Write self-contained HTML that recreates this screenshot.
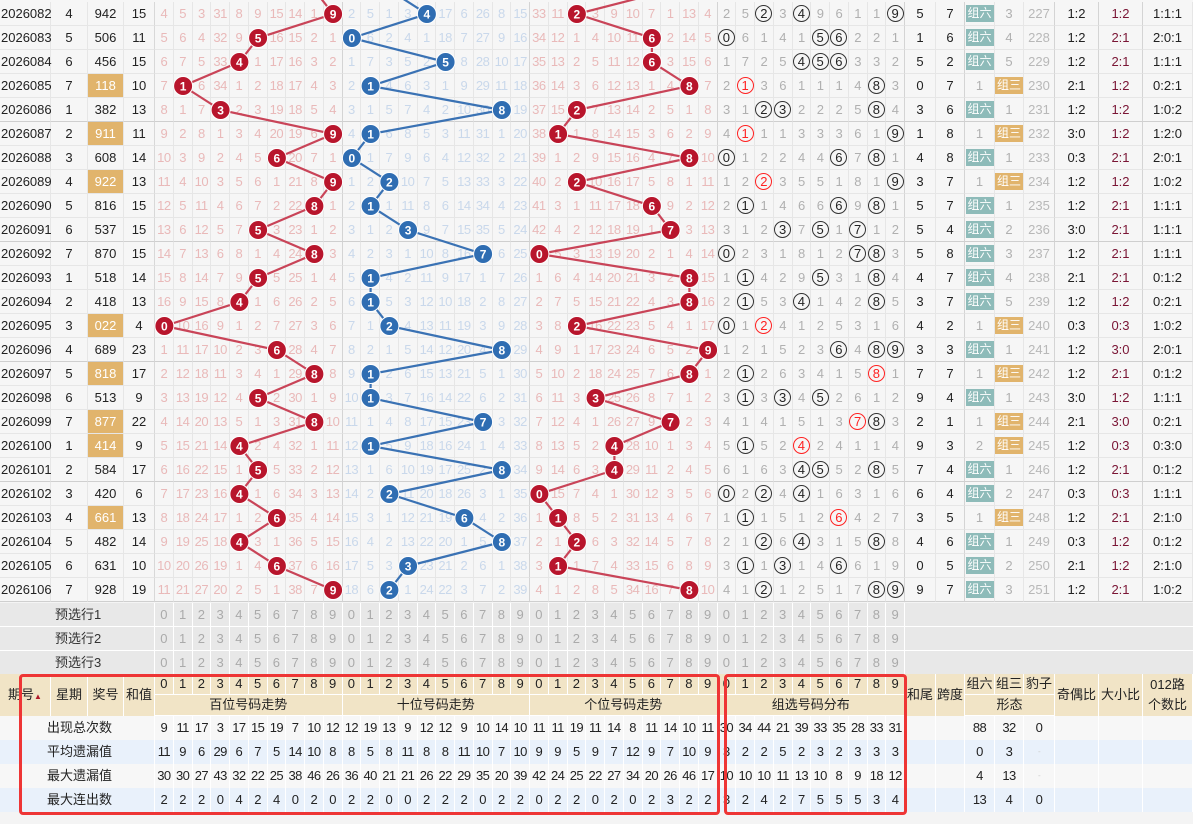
<!DOCTYPE html>
<html><head><meta charset="utf-8">
<style>
*{margin:0;padding:0}
body{width:1193px;height:824px;overflow:hidden;background:#f4f4f4;font-family:"Liberation Sans","Noto Sans CJK SC",sans-serif;font-size:13px;color:#222;position:relative}
.body{position:absolute;left:0;top:2px;width:1193px}
.top{position:absolute;left:0;top:0;width:1193px;height:2px;background:#f6f6f6;border-bottom:1px solid #e4e4e4}
.r{display:flex;height:24px;background:#f6f6f6}
.r>i{display:block;box-sizing:border-box;height:24px;line-height:23px;text-align:center;font-style:normal;border-right:1px solid #e6e6e6;border-bottom:1px solid #e6e6e6;white-space:nowrap;overflow:visible}
.r>i:nth-child(1){width:51px;text-align:left;padding-left:1px}
.r>i:nth-child(2){width:37px}
.r>i:nth-child(3){width:36px}
.r>i:nth-child(4){width:31px;border-right:1px solid #d8d8d8}
.r>i:nth-child(n+5):nth-child(-n+44){width:18.75px;letter-spacing:-0.5px}
.r>i:nth-child(n+5):nth-child(-n+14){color:#e9b9b9}
.r>i:nth-child(n+15):nth-child(-n+24){color:#c9d8eb}
.r>i:nth-child(n+25):nth-child(-n+34){color:#e9b9b9}
.r>i:nth-child(n+35):nth-child(-n+44){color:#b0b0b0}
.r>i:nth-child(14),.r>i:nth-child(24),.r>i:nth-child(34),.r>i:nth-child(44){border-right:1px solid #d4d4d4}
.r>i:nth-child(45){width:31px}
.r>i:nth-child(46){width:29px;border-right:1px solid #d4d4d4}
.r>i:nth-child(47){width:30px;color:#b0b0b0}
.r>i:nth-child(48){width:29px;color:#b0b0b0}
.r>i:nth-child(49){width:31px;color:#b8b8b8;border-right:1px solid #d4d4d4}
.r>i:nth-child(50){width:44px;border-right:1px solid #d4d4d4}
.r>i:nth-child(51){width:44px;color:#7a1535;border-right:1px solid #d4d4d4}
.r>i:nth-child(52){width:50px}
.r.g5>i{border-bottom:1px solid #cfcfcf}
.r>i.o{background:#e1b46c;color:#fff}
em{display:inline-block;box-sizing:border-box;width:17px;height:17px;line-height:15px;border:1px solid #333;border-radius:50%;color:#222;font-style:normal;letter-spacing:0;vertical-align:middle;margin-top:-2px}
em.d{border-color:#f22;color:#f22}
.z6{display:inline-block;background:#8ebbb9;color:#fff;width:28px;line-height:17px;font-size:12px;vertical-align:middle;margin-top:-2px}
.z3{display:inline-block;background:#e1b46c;color:#fff;width:28px;line-height:17px;font-size:12px;vertical-align:middle;margin-top:-2px}
svg.ov{position:absolute;left:0;top:0}
.pr{position:absolute;left:0;width:1193px;height:24px;display:flex;background:#e8e8e8}
.pr>i{display:block;box-sizing:border-box;height:24px;line-height:23px;font-style:normal;text-align:center;border-right:1px solid #fff;border-bottom:1px solid #fff;color:#aaa;width:18.75px}
.pr>i:first-child{width:155px;text-align:left;padding-left:55px;color:#333}
.pr>i:last-child{flex:1;border-right:none}
.hd{position:absolute;left:0;top:674px;width:1193px;height:42px;background:#f1e4c6;display:flex}
.hd .c{box-sizing:border-box;height:42px;line-height:42px;border-right:1px solid #fff;text-align:center}
.hd .blk{display:flex;flex-direction:column}
.hd .row{display:flex;height:21px}
.hd .row i{display:block;box-sizing:border-box;font-style:normal;text-align:center;line-height:20px;border-right:1px solid #fff;border-bottom:1px solid #fff;height:21px}
.st{position:absolute;left:0;width:1193px;height:24px;display:flex}
.st>i{display:block;box-sizing:border-box;height:24px;line-height:23px;font-style:normal;text-align:center;border-right:1px solid #fff;width:18.75px;letter-spacing:-0.6px}
.st>i:first-child{width:155px;text-align:left;padding-left:47px;letter-spacing:0}
.box{position:absolute;border:3px solid #ee3535;border-radius:4px;box-sizing:border-box}
</style></head><body>
<div class="top"></div>
<div class="body">
<div class="r"><i>2026082</i><i>4</i><i>942</i><i>15</i><i>4</i><i>5</i><i>3</i><i>31</i><i>8</i><i>9</i><i>15</i><i>14</i><i>1</i><i></i><i>2</i><i>5</i><i>1</i><i>3</i><i></i><i>17</i><i>6</i><i>26</i><i>8</i><i>15</i><i>33</i><i>11</i><i></i><i>3</i><i>9</i><i>10</i><i>7</i><i>1</i><i>13</i><i>4</i><i>2</i><i>5</i><i><em>2</em></i><i>3</i><i><em>4</em></i><i>9</i><i>6</i><i>1</i><i>1</i><i><em>9</em></i><i>5</i><i>7</i><i><span class="z6">组六</span></i><i>3</i><i>227</i><i>1:2</i><i>1:2</i><i>1:1:1</i></div>
<div class="r"><i>2026083</i><i>5</i><i>506</i><i>11</i><i>5</i><i>6</i><i>4</i><i>32</i><i>9</i><i></i><i>16</i><i>15</i><i>2</i><i>1</i><i></i><i>6</i><i>2</i><i>4</i><i>1</i><i>18</i><i>7</i><i>27</i><i>9</i><i>16</i><i>34</i><i>12</i><i>1</i><i>4</i><i>10</i><i>11</i><i></i><i>2</i><i>14</i><i>5</i><i><em>0</em></i><i>6</i><i>1</i><i>4</i><i>1</i><i><em>5</em></i><i><em>6</em></i><i>2</i><i>2</i><i>1</i><i>1</i><i>6</i><i><span class="z6">组六</span></i><i>4</i><i>228</i><i>1:2</i><i>2:1</i><i>2:0:1</i></div>
<div class="r"><i>2026084</i><i>6</i><i>456</i><i>15</i><i>6</i><i>7</i><i>5</i><i>33</i><i></i><i>1</i><i>17</i><i>16</i><i>3</i><i>2</i><i>1</i><i>7</i><i>3</i><i>5</i><i>2</i><i></i><i>8</i><i>28</i><i>10</i><i>17</i><i>35</i><i>13</i><i>2</i><i>5</i><i>11</i><i>12</i><i></i><i>3</i><i>15</i><i>6</i><i>1</i><i>7</i><i>2</i><i>5</i><i><em>4</em></i><i><em>5</em></i><i><em>6</em></i><i>3</i><i>3</i><i>2</i><i>5</i><i>2</i><i><span class="z6">组六</span></i><i>5</i><i>229</i><i>1:2</i><i>2:1</i><i>1:1:1</i></div>
<div class="r"><i>2026085</i><i>7</i><i class="o">118</i><i>10</i><i>7</i><i></i><i>6</i><i>34</i><i>1</i><i>2</i><i>18</i><i>17</i><i>4</i><i>3</i><i>2</i><i></i><i>4</i><i>6</i><i>3</i><i>1</i><i>9</i><i>29</i><i>11</i><i>18</i><i>36</i><i>14</i><i>3</i><i>6</i><i>12</i><i>13</i><i>1</i><i>4</i><i></i><i>7</i><i>2</i><i><em class="d">1</em></i><i>3</i><i>6</i><i>1</i><i>1</i><i>1</i><i>4</i><i><em>8</em></i><i>3</i><i>0</i><i>7</i><i>1</i><i><span class="z3">组三</span></i><i>230</i><i>2:1</i><i>1:2</i><i>0:2:1</i></div>
<div class="r g5"><i>2026086</i><i>1</i><i>382</i><i>13</i><i>8</i><i>1</i><i>7</i><i></i><i>2</i><i>3</i><i>19</i><i>18</i><i>5</i><i>4</i><i>3</i><i>1</i><i>5</i><i>7</i><i>4</i><i>2</i><i>10</i><i>30</i><i></i><i>19</i><i>37</i><i>15</i><i></i><i>7</i><i>13</i><i>14</i><i>2</i><i>5</i><i>1</i><i>8</i><i>3</i><i>1</i><i><em>2</em></i><i><em>3</em></i><i>2</i><i>2</i><i>2</i><i>5</i><i><em>8</em></i><i>4</i><i>3</i><i>6</i><i><span class="z6">组六</span></i><i>1</i><i>231</i><i>1:2</i><i>1:2</i><i>1:0:2</i></div>
<div class="r"><i>2026087</i><i>2</i><i class="o">911</i><i>11</i><i>9</i><i>2</i><i>8</i><i>1</i><i>3</i><i>4</i><i>20</i><i>19</i><i>6</i><i></i><i>4</i><i></i><i>6</i><i>8</i><i>5</i><i>3</i><i>11</i><i>31</i><i>1</i><i>20</i><i>38</i><i></i><i>1</i><i>8</i><i>14</i><i>15</i><i>3</i><i>6</i><i>2</i><i>9</i><i>4</i><i><em class="d">1</em></i><i>1</i><i>1</i><i>3</i><i>3</i><i>3</i><i>6</i><i>1</i><i><em>9</em></i><i>1</i><i>8</i><i>1</i><i><span class="z3">组三</span></i><i>232</i><i>3:0</i><i>1:2</i><i>1:2:0</i></div>
<div class="r"><i>2026088</i><i>3</i><i>608</i><i>14</i><i>10</i><i>3</i><i>9</i><i>2</i><i>4</i><i>5</i><i></i><i>20</i><i>7</i><i>1</i><i></i><i>1</i><i>7</i><i>9</i><i>6</i><i>4</i><i>12</i><i>32</i><i>2</i><i>21</i><i>39</i><i>1</i><i>2</i><i>9</i><i>15</i><i>16</i><i>4</i><i>7</i><i></i><i>10</i><i><em>0</em></i><i>1</i><i>2</i><i>2</i><i>4</i><i>4</i><i><em>6</em></i><i>7</i><i><em>8</em></i><i>1</i><i>4</i><i>8</i><i><span class="z6">组六</span></i><i>1</i><i>233</i><i>0:3</i><i>2:1</i><i>2:0:1</i></div>
<div class="r"><i>2026089</i><i>4</i><i class="o">922</i><i>13</i><i>11</i><i>4</i><i>10</i><i>3</i><i>5</i><i>6</i><i>1</i><i>21</i><i>8</i><i></i><i>1</i><i>2</i><i></i><i>10</i><i>7</i><i>5</i><i>13</i><i>33</i><i>3</i><i>22</i><i>40</i><i>2</i><i></i><i>10</i><i>16</i><i>17</i><i>5</i><i>8</i><i>1</i><i>11</i><i>1</i><i>2</i><i><em class="d">2</em></i><i>3</i><i>5</i><i>5</i><i>1</i><i>8</i><i>1</i><i><em>9</em></i><i>3</i><i>7</i><i>1</i><i><span class="z3">组三</span></i><i>234</i><i>1:2</i><i>1:2</i><i>1:0:2</i></div>
<div class="r"><i>2026090</i><i>5</i><i>816</i><i>15</i><i>12</i><i>5</i><i>11</i><i>4</i><i>6</i><i>7</i><i>2</i><i>22</i><i></i><i>1</i><i>2</i><i></i><i>1</i><i>11</i><i>8</i><i>6</i><i>14</i><i>34</i><i>4</i><i>23</i><i>41</i><i>3</i><i>1</i><i>11</i><i>17</i><i>18</i><i></i><i>9</i><i>2</i><i>12</i><i>2</i><i><em>1</em></i><i>1</i><i>4</i><i>6</i><i>6</i><i><em>6</em></i><i>9</i><i><em>8</em></i><i>1</i><i>5</i><i>7</i><i><span class="z6">组六</span></i><i>1</i><i>235</i><i>1:2</i><i>2:1</i><i>1:1:1</i></div>
<div class="r g5"><i>2026091</i><i>6</i><i>537</i><i>15</i><i>13</i><i>6</i><i>12</i><i>5</i><i>7</i><i></i><i>3</i><i>23</i><i>1</i><i>2</i><i>3</i><i>1</i><i>2</i><i></i><i>9</i><i>7</i><i>15</i><i>35</i><i>5</i><i>24</i><i>42</i><i>4</i><i>2</i><i>12</i><i>18</i><i>19</i><i>1</i><i></i><i>3</i><i>13</i><i>3</i><i>1</i><i>2</i><i><em>3</em></i><i>7</i><i><em>5</em></i><i>1</i><i><em>7</em></i><i>1</i><i>2</i><i>5</i><i>4</i><i><span class="z6">组六</span></i><i>2</i><i>236</i><i>3:0</i><i>2:1</i><i>1:1:1</i></div>
<div class="r"><i>2026092</i><i>7</i><i>870</i><i>15</i><i>14</i><i>7</i><i>13</i><i>6</i><i>8</i><i>1</i><i>4</i><i>24</i><i></i><i>3</i><i>4</i><i>2</i><i>3</i><i>1</i><i>10</i><i>8</i><i>16</i><i></i><i>6</i><i>25</i><i></i><i>5</i><i>3</i><i>13</i><i>19</i><i>20</i><i>2</i><i>1</i><i>4</i><i>14</i><i><em>0</em></i><i>2</i><i>3</i><i>1</i><i>8</i><i>1</i><i>2</i><i><em>7</em></i><i><em>8</em></i><i>3</i><i>5</i><i>8</i><i><span class="z6">组六</span></i><i>3</i><i>237</i><i>1:2</i><i>2:1</i><i>1:1:1</i></div>
<div class="r"><i>2026093</i><i>1</i><i>518</i><i>14</i><i>15</i><i>8</i><i>14</i><i>7</i><i>9</i><i></i><i>5</i><i>25</i><i>1</i><i>4</i><i>5</i><i></i><i>4</i><i>2</i><i>11</i><i>9</i><i>17</i><i>1</i><i>7</i><i>26</i><i>1</i><i>6</i><i>4</i><i>14</i><i>20</i><i>21</i><i>3</i><i>2</i><i></i><i>15</i><i>1</i><i><em>1</em></i><i>4</i><i>2</i><i>9</i><i><em>5</em></i><i>3</i><i>1</i><i><em>8</em></i><i>4</i><i>4</i><i>7</i><i><span class="z6">组六</span></i><i>4</i><i>238</i><i>2:1</i><i>2:1</i><i>0:1:2</i></div>
<div class="r"><i>2026094</i><i>2</i><i>418</i><i>13</i><i>16</i><i>9</i><i>15</i><i>8</i><i></i><i>1</i><i>6</i><i>26</i><i>2</i><i>5</i><i>6</i><i></i><i>5</i><i>3</i><i>12</i><i>10</i><i>18</i><i>2</i><i>8</i><i>27</i><i>2</i><i>7</i><i>5</i><i>15</i><i>21</i><i>22</i><i>4</i><i>3</i><i></i><i>16</i><i>2</i><i><em>1</em></i><i>5</i><i>3</i><i><em>4</em></i><i>1</i><i>4</i><i>2</i><i><em>8</em></i><i>5</i><i>3</i><i>7</i><i><span class="z6">组六</span></i><i>5</i><i>239</i><i>1:2</i><i>1:2</i><i>0:2:1</i></div>
<div class="r"><i>2026095</i><i>3</i><i class="o">022</i><i>4</i><i></i><i>10</i><i>16</i><i>9</i><i>1</i><i>2</i><i>7</i><i>27</i><i>3</i><i>6</i><i>7</i><i>1</i><i></i><i>4</i><i>13</i><i>11</i><i>19</i><i>3</i><i>9</i><i>28</i><i>3</i><i>8</i><i></i><i>16</i><i>22</i><i>23</i><i>5</i><i>4</i><i>1</i><i>17</i><i><em>0</em></i><i>1</i><i><em class="d">2</em></i><i>4</i><i>1</i><i>2</i><i>5</i><i>3</i><i>1</i><i>6</i><i>4</i><i>2</i><i>1</i><i><span class="z3">组三</span></i><i>240</i><i>0:3</i><i>0:3</i><i>1:0:2</i></div>
<div class="r g5"><i>2026096</i><i>4</i><i>689</i><i>23</i><i>1</i><i>11</i><i>17</i><i>10</i><i>2</i><i>3</i><i></i><i>28</i><i>4</i><i>7</i><i>8</i><i>2</i><i>1</i><i>5</i><i>14</i><i>12</i><i>20</i><i>4</i><i></i><i>29</i><i>4</i><i>9</i><i>1</i><i>17</i><i>23</i><i>24</i><i>6</i><i>5</i><i>2</i><i></i><i>1</i><i>2</i><i>1</i><i>5</i><i>2</i><i>3</i><i><em>6</em></i><i>4</i><i><em>8</em></i><i><em>9</em></i><i>3</i><i>3</i><i><span class="z6">组六</span></i><i>1</i><i>241</i><i>1:2</i><i>3:0</i><i>2:0:1</i></div>
<div class="r"><i>2026097</i><i>5</i><i class="o">818</i><i>17</i><i>2</i><i>12</i><i>18</i><i>11</i><i>3</i><i>4</i><i>1</i><i>29</i><i></i><i>8</i><i>9</i><i></i><i>2</i><i>6</i><i>15</i><i>13</i><i>21</i><i>5</i><i>1</i><i>30</i><i>5</i><i>10</i><i>2</i><i>18</i><i>24</i><i>25</i><i>7</i><i>6</i><i></i><i>1</i><i>2</i><i><em>1</em></i><i>2</i><i>6</i><i>3</i><i>4</i><i>1</i><i>5</i><i><em class="d">8</em></i><i>1</i><i>7</i><i>7</i><i>1</i><i><span class="z3">组三</span></i><i>242</i><i>1:2</i><i>2:1</i><i>0:1:2</i></div>
<div class="r"><i>2026098</i><i>6</i><i>513</i><i>9</i><i>3</i><i>13</i><i>19</i><i>12</i><i>4</i><i></i><i>2</i><i>30</i><i>1</i><i>9</i><i>10</i><i></i><i>3</i><i>7</i><i>16</i><i>14</i><i>22</i><i>6</i><i>2</i><i>31</i><i>6</i><i>11</i><i>3</i><i></i><i>25</i><i>26</i><i>8</i><i>7</i><i>1</i><i>2</i><i>3</i><i><em>1</em></i><i>3</i><i><em>3</em></i><i>4</i><i><em>5</em></i><i>2</i><i>6</i><i>1</i><i>2</i><i>9</i><i>4</i><i><span class="z6">组六</span></i><i>1</i><i>243</i><i>3:0</i><i>1:2</i><i>1:1:1</i></div>
<div class="r"><i>2026099</i><i>7</i><i class="o">877</i><i>22</i><i>4</i><i>14</i><i>20</i><i>13</i><i>5</i><i>1</i><i>3</i><i>31</i><i></i><i>10</i><i>11</i><i>1</i><i>4</i><i>8</i><i>17</i><i>15</i><i>23</i><i></i><i>3</i><i>32</i><i>7</i><i>12</i><i>4</i><i>1</i><i>26</i><i>27</i><i>9</i><i></i><i>2</i><i>3</i><i>4</i><i>1</i><i>4</i><i>1</i><i>5</i><i>1</i><i>3</i><i><em class="d">7</em></i><i><em>8</em></i><i>3</i><i>2</i><i>1</i><i>1</i><i><span class="z3">组三</span></i><i>244</i><i>2:1</i><i>3:0</i><i>0:2:1</i></div>
<div class="r"><i>2026100</i><i>1</i><i class="o">414</i><i>9</i><i>5</i><i>15</i><i>21</i><i>14</i><i></i><i>2</i><i>4</i><i>32</i><i>1</i><i>11</i><i>12</i><i></i><i>5</i><i>9</i><i>18</i><i>16</i><i>24</i><i>1</i><i>4</i><i>33</i><i>8</i><i>13</i><i>5</i><i>2</i><i></i><i>28</i><i>10</i><i>1</i><i>3</i><i>4</i><i>5</i><i><em>1</em></i><i>5</i><i>2</i><i><em class="d">4</em></i><i>2</i><i>4</i><i>1</i><i>1</i><i>4</i><i>9</i><i>3</i><i>2</i><i><span class="z3">组三</span></i><i>245</i><i>1:2</i><i>0:3</i><i>0:3:0</i></div>
<div class="r g5"><i>2026101</i><i>2</i><i>584</i><i>17</i><i>6</i><i>16</i><i>22</i><i>15</i><i>1</i><i></i><i>5</i><i>33</i><i>2</i><i>12</i><i>13</i><i>1</i><i>6</i><i>10</i><i>19</i><i>17</i><i>25</i><i>2</i><i></i><i>34</i><i>9</i><i>14</i><i>6</i><i>3</i><i></i><i>29</i><i>11</i><i>2</i><i>4</i><i>5</i><i>6</i><i>1</i><i>6</i><i>3</i><i><em>4</em></i><i><em>5</em></i><i>5</i><i>2</i><i><em>8</em></i><i>5</i><i>7</i><i>4</i><i><span class="z6">组六</span></i><i>1</i><i>246</i><i>1:2</i><i>2:1</i><i>0:1:2</i></div>
<div class="r"><i>2026102</i><i>3</i><i>420</i><i>6</i><i>7</i><i>17</i><i>23</i><i>16</i><i></i><i>1</i><i>6</i><i>34</i><i>3</i><i>13</i><i>14</i><i>2</i><i></i><i>11</i><i>20</i><i>18</i><i>26</i><i>3</i><i>1</i><i>35</i><i></i><i>15</i><i>7</i><i>4</i><i>1</i><i>30</i><i>12</i><i>3</i><i>5</i><i>6</i><i><em>0</em></i><i>2</i><i><em>2</em></i><i>4</i><i><em>4</em></i><i>1</i><i>6</i><i>3</i><i>1</i><i>6</i><i>6</i><i>4</i><i><span class="z6">组六</span></i><i>2</i><i>247</i><i>0:3</i><i>0:3</i><i>1:1:1</i></div>
<div class="r"><i>2026103</i><i>4</i><i class="o">661</i><i>13</i><i>8</i><i>18</i><i>24</i><i>17</i><i>1</i><i>2</i><i></i><i>35</i><i>4</i><i>14</i><i>15</i><i>3</i><i>1</i><i>12</i><i>21</i><i>19</i><i></i><i>4</i><i>2</i><i>36</i><i>1</i><i></i><i>8</i><i>5</i><i>2</i><i>31</i><i>13</i><i>4</i><i>6</i><i>7</i><i>1</i><i><em>1</em></i><i>1</i><i>5</i><i>1</i><i>2</i><i><em class="d">6</em></i><i>4</i><i>2</i><i>7</i><i>3</i><i>5</i><i>1</i><i><span class="z3">组三</span></i><i>248</i><i>1:2</i><i>2:1</i><i>2:1:0</i></div>
<div class="r"><i>2026104</i><i>5</i><i>482</i><i>14</i><i>9</i><i>19</i><i>25</i><i>18</i><i></i><i>3</i><i>1</i><i>36</i><i>5</i><i>15</i><i>16</i><i>4</i><i>2</i><i>13</i><i>22</i><i>20</i><i>1</i><i>5</i><i></i><i>37</i><i>2</i><i>1</i><i></i><i>6</i><i>3</i><i>32</i><i>14</i><i>5</i><i>7</i><i>8</i><i>2</i><i>1</i><i><em>2</em></i><i>6</i><i><em>4</em></i><i>3</i><i>1</i><i>5</i><i><em>8</em></i><i>8</i><i>4</i><i>6</i><i><span class="z6">组六</span></i><i>1</i><i>249</i><i>0:3</i><i>1:2</i><i>0:1:2</i></div>
<div class="r"><i>2026105</i><i>6</i><i>631</i><i>10</i><i>10</i><i>20</i><i>26</i><i>19</i><i>1</i><i>4</i><i></i><i>37</i><i>6</i><i>16</i><i>17</i><i>5</i><i>3</i><i></i><i>23</i><i>21</i><i>2</i><i>6</i><i>1</i><i>38</i><i>3</i><i></i><i>1</i><i>7</i><i>4</i><i>33</i><i>15</i><i>6</i><i>8</i><i>9</i><i>3</i><i><em>1</em></i><i>1</i><i><em>3</em></i><i>1</i><i>4</i><i><em>6</em></i><i>6</i><i>1</i><i>9</i><i>0</i><i>5</i><i><span class="z6">组六</span></i><i>2</i><i>250</i><i>2:1</i><i>1:2</i><i>2:1:0</i></div>
<div class="r g5"><i>2026106</i><i>7</i><i>928</i><i>19</i><i>11</i><i>21</i><i>27</i><i>20</i><i>2</i><i>5</i><i>1</i><i>38</i><i>7</i><i></i><i>18</i><i>6</i><i></i><i>1</i><i>24</i><i>22</i><i>3</i><i>7</i><i>2</i><i>39</i><i>4</i><i>1</i><i>2</i><i>8</i><i>5</i><i>34</i><i>16</i><i>7</i><i></i><i>10</i><i>4</i><i>1</i><i><em>2</em></i><i>1</i><i>2</i><i>5</i><i>1</i><i>7</i><i><em>8</em></i><i><em>9</em></i><i>9</i><i>7</i><i><span class="z6">组六</span></i><i>3</i><i>251</i><i>1:2</i><i>2:1</i><i>1:0:2</i></div>
</div>

<svg class="ov" width="1193" height="602" viewBox="0 0 1193 602">
<g fill="none" stroke-width="2.2">
<polyline stroke="#c94458" points="314.4,-10 333.1,14 258.1,38 239.4,62 183.1,86 220.6,110 333.1,134 276.9,158 333.1,182 314.4,206 258.1,230 314.4,254 258.1,278 239.4,302 164.4,326 276.9,350 314.4,374 258.1,398 314.4,422 239.4,446 258.1,470 239.4,494 276.9,518 239.4,542 276.9,566 333.1,590"/>
<polyline stroke="#3a72b4" points="389.4,-10 426.9,14 351.9,38 445.6,62 370.6,86 501.9,110 370.6,134 351.9,158 389.4,182 370.6,206 408.1,230 483.1,254 370.6,278 370.6,302 389.4,326 501.9,350 370.6,374 370.6,398 483.1,422 370.6,446 501.9,470 389.4,494 464.4,518 501.9,542 408.1,566 389.4,590"/>
<polyline stroke="#c94458" points="670.6,-10 576.9,14 651.9,38 651.9,62 689.4,86 576.9,110 558.1,134 689.4,158 576.9,182 651.9,206 670.6,230 539.4,254 689.4,278 689.4,302 576.9,326 708.1,350 689.4,374 595.6,398 670.6,422 614.4,446 614.4,470 539.4,494 558.1,518 576.9,542 558.1,566 689.4,590"/>
</g>
<g fill="#b8152c" stroke="#fff" stroke-width="1">
<circle cx="333.1" cy="14" r="9.5"/><circle cx="258.1" cy="38" r="9.5"/><circle cx="239.4" cy="62" r="9.5"/><circle cx="183.1" cy="86" r="9.5"/><circle cx="220.6" cy="110" r="9.5"/><circle cx="333.1" cy="134" r="9.5"/><circle cx="276.9" cy="158" r="9.5"/><circle cx="333.1" cy="182" r="9.5"/><circle cx="314.4" cy="206" r="9.5"/><circle cx="258.1" cy="230" r="9.5"/><circle cx="314.4" cy="254" r="9.5"/><circle cx="258.1" cy="278" r="9.5"/><circle cx="239.4" cy="302" r="9.5"/><circle cx="164.4" cy="326" r="9.5"/><circle cx="276.9" cy="350" r="9.5"/><circle cx="314.4" cy="374" r="9.5"/><circle cx="258.1" cy="398" r="9.5"/><circle cx="314.4" cy="422" r="9.5"/><circle cx="239.4" cy="446" r="9.5"/><circle cx="258.1" cy="470" r="9.5"/><circle cx="239.4" cy="494" r="9.5"/><circle cx="276.9" cy="518" r="9.5"/><circle cx="239.4" cy="542" r="9.5"/><circle cx="276.9" cy="566" r="9.5"/><circle cx="333.1" cy="590" r="9.5"/>
<circle cx="576.9" cy="14" r="9.5"/><circle cx="651.9" cy="38" r="9.5"/><circle cx="651.9" cy="62" r="9.5"/><circle cx="689.4" cy="86" r="9.5"/><circle cx="576.9" cy="110" r="9.5"/><circle cx="558.1" cy="134" r="9.5"/><circle cx="689.4" cy="158" r="9.5"/><circle cx="576.9" cy="182" r="9.5"/><circle cx="651.9" cy="206" r="9.5"/><circle cx="670.6" cy="230" r="9.5"/><circle cx="539.4" cy="254" r="9.5"/><circle cx="689.4" cy="278" r="9.5"/><circle cx="689.4" cy="302" r="9.5"/><circle cx="576.9" cy="326" r="9.5"/><circle cx="708.1" cy="350" r="9.5"/><circle cx="689.4" cy="374" r="9.5"/><circle cx="595.6" cy="398" r="9.5"/><circle cx="670.6" cy="422" r="9.5"/><circle cx="614.4" cy="446" r="9.5"/><circle cx="614.4" cy="470" r="9.5"/><circle cx="539.4" cy="494" r="9.5"/><circle cx="558.1" cy="518" r="9.5"/><circle cx="576.9" cy="542" r="9.5"/><circle cx="558.1" cy="566" r="9.5"/><circle cx="689.4" cy="590" r="9.5"/>
</g>
<g fill="#2f6db2" stroke="#fff" stroke-width="1">
<circle cx="426.9" cy="14" r="9.5"/><circle cx="351.9" cy="38" r="9.5"/><circle cx="445.6" cy="62" r="9.5"/><circle cx="370.6" cy="86" r="9.5"/><circle cx="501.9" cy="110" r="9.5"/><circle cx="370.6" cy="134" r="9.5"/><circle cx="351.9" cy="158" r="9.5"/><circle cx="389.4" cy="182" r="9.5"/><circle cx="370.6" cy="206" r="9.5"/><circle cx="408.1" cy="230" r="9.5"/><circle cx="483.1" cy="254" r="9.5"/><circle cx="370.6" cy="278" r="9.5"/><circle cx="370.6" cy="302" r="9.5"/><circle cx="389.4" cy="326" r="9.5"/><circle cx="501.9" cy="350" r="9.5"/><circle cx="370.6" cy="374" r="9.5"/><circle cx="370.6" cy="398" r="9.5"/><circle cx="483.1" cy="422" r="9.5"/><circle cx="370.6" cy="446" r="9.5"/><circle cx="501.9" cy="470" r="9.5"/><circle cx="389.4" cy="494" r="9.5"/><circle cx="464.4" cy="518" r="9.5"/><circle cx="501.9" cy="542" r="9.5"/><circle cx="408.1" cy="566" r="9.5"/><circle cx="389.4" cy="590" r="9.5"/>
</g>
<g fill="#fff" font-family="Liberation Sans, sans-serif" font-size="12" font-weight="bold" text-anchor="middle">
<text x="333.1" y="18.5">9</text><text x="258.1" y="42.5">5</text><text x="239.4" y="66.5">4</text><text x="183.1" y="90.5">1</text><text x="220.6" y="114.5">3</text><text x="333.1" y="138.5">9</text><text x="276.9" y="162.5">6</text><text x="333.1" y="186.5">9</text><text x="314.4" y="210.5">8</text><text x="258.1" y="234.5">5</text><text x="314.4" y="258.5">8</text><text x="258.1" y="282.5">5</text><text x="239.4" y="306.5">4</text><text x="164.4" y="330.5">0</text><text x="276.9" y="354.5">6</text><text x="314.4" y="378.5">8</text><text x="258.1" y="402.5">5</text><text x="314.4" y="426.5">8</text><text x="239.4" y="450.5">4</text><text x="258.1" y="474.5">5</text><text x="239.4" y="498.5">4</text><text x="276.9" y="522.5">6</text><text x="239.4" y="546.5">4</text><text x="276.9" y="570.5">6</text><text x="333.1" y="594.5">9</text>
<text x="426.9" y="18.5">4</text><text x="351.9" y="42.5">0</text><text x="445.6" y="66.5">5</text><text x="370.6" y="90.5">1</text><text x="501.9" y="114.5">8</text><text x="370.6" y="138.5">1</text><text x="351.9" y="162.5">0</text><text x="389.4" y="186.5">2</text><text x="370.6" y="210.5">1</text><text x="408.1" y="234.5">3</text><text x="483.1" y="258.5">7</text><text x="370.6" y="282.5">1</text><text x="370.6" y="306.5">1</text><text x="389.4" y="330.5">2</text><text x="501.9" y="354.5">8</text><text x="370.6" y="378.5">1</text><text x="370.6" y="402.5">1</text><text x="483.1" y="426.5">7</text><text x="370.6" y="450.5">1</text><text x="501.9" y="474.5">8</text><text x="389.4" y="498.5">2</text><text x="464.4" y="522.5">6</text><text x="501.9" y="546.5">8</text><text x="408.1" y="570.5">3</text><text x="389.4" y="594.5">2</text>
<text x="576.9" y="18.5">2</text><text x="651.9" y="42.5">6</text><text x="651.9" y="66.5">6</text><text x="689.4" y="90.5">8</text><text x="576.9" y="114.5">2</text><text x="558.1" y="138.5">1</text><text x="689.4" y="162.5">8</text><text x="576.9" y="186.5">2</text><text x="651.9" y="210.5">6</text><text x="670.6" y="234.5">7</text><text x="539.4" y="258.5">0</text><text x="689.4" y="282.5">8</text><text x="689.4" y="306.5">8</text><text x="576.9" y="330.5">2</text><text x="708.1" y="354.5">9</text><text x="689.4" y="378.5">8</text><text x="595.6" y="402.5">3</text><text x="670.6" y="426.5">7</text><text x="614.4" y="450.5">4</text><text x="614.4" y="474.5">4</text><text x="539.4" y="498.5">0</text><text x="558.1" y="522.5">1</text><text x="576.9" y="546.5">2</text><text x="558.1" y="570.5">1</text><text x="689.4" y="594.5">8</text>
</g>
</svg>

<div class="pr" style="top:603px"><i>预选行1</i><i>0</i><i>1</i><i>2</i><i>3</i><i>4</i><i>5</i><i>6</i><i>7</i><i>8</i><i>9</i><i>0</i><i>1</i><i>2</i><i>3</i><i>4</i><i>5</i><i>6</i><i>7</i><i>8</i><i>9</i><i>0</i><i>1</i><i>2</i><i>3</i><i>4</i><i>5</i><i>6</i><i>7</i><i>8</i><i>9</i><i>0</i><i>1</i><i>2</i><i>3</i><i>4</i><i>5</i><i>6</i><i>7</i><i>8</i><i>9</i><i></i></div>
<div class="pr" style="top:627px"><i>预选行2</i><i>0</i><i>1</i><i>2</i><i>3</i><i>4</i><i>5</i><i>6</i><i>7</i><i>8</i><i>9</i><i>0</i><i>1</i><i>2</i><i>3</i><i>4</i><i>5</i><i>6</i><i>7</i><i>8</i><i>9</i><i>0</i><i>1</i><i>2</i><i>3</i><i>4</i><i>5</i><i>6</i><i>7</i><i>8</i><i>9</i><i>0</i><i>1</i><i>2</i><i>3</i><i>4</i><i>5</i><i>6</i><i>7</i><i>8</i><i>9</i><i></i></div>
<div class="pr" style="top:651px"><i>预选行3</i><i>0</i><i>1</i><i>2</i><i>3</i><i>4</i><i>5</i><i>6</i><i>7</i><i>8</i><i>9</i><i>0</i><i>1</i><i>2</i><i>3</i><i>4</i><i>5</i><i>6</i><i>7</i><i>8</i><i>9</i><i>0</i><i>1</i><i>2</i><i>3</i><i>4</i><i>5</i><i>6</i><i>7</i><i>8</i><i>9</i><i>0</i><i>1</i><i>2</i><i>3</i><i>4</i><i>5</i><i>6</i><i>7</i><i>8</i><i>9</i><i></i></div>

<div class="hd">
<div class="c" style="width:51px">期号<span style="font-size:8px;color:#b01a2a">▲</span></div>
<div class="c" style="width:37px">星期</div>
<div class="c" style="width:36px">奖号</div>
<div class="c" style="width:31px">和值</div>
<div class="blk" style="width:750px">
<div class="row"><i style="width:18.75px">0</i><i style="width:18.75px">1</i><i style="width:18.75px">2</i><i style="width:18.75px">3</i><i style="width:18.75px">4</i><i style="width:18.75px">5</i><i style="width:18.75px">6</i><i style="width:18.75px">7</i><i style="width:18.75px">8</i><i style="width:18.75px">9</i><i style="width:18.75px">0</i><i style="width:18.75px">1</i><i style="width:18.75px">2</i><i style="width:18.75px">3</i><i style="width:18.75px">4</i><i style="width:18.75px">5</i><i style="width:18.75px">6</i><i style="width:18.75px">7</i><i style="width:18.75px">8</i><i style="width:18.75px">9</i><i style="width:18.75px">0</i><i style="width:18.75px">1</i><i style="width:18.75px">2</i><i style="width:18.75px">3</i><i style="width:18.75px">4</i><i style="width:18.75px">5</i><i style="width:18.75px">6</i><i style="width:18.75px">7</i><i style="width:18.75px">8</i><i style="width:18.75px">9</i><i style="width:18.75px">0</i><i style="width:18.75px">1</i><i style="width:18.75px">2</i><i style="width:18.75px">3</i><i style="width:18.75px">4</i><i style="width:18.75px">5</i><i style="width:18.75px">6</i><i style="width:18.75px">7</i><i style="width:18.75px">8</i><i style="width:18.75px">9</i></div>
<div class="row"><i style="width:187.5px">百位号码走势</i><i style="width:187.5px">十位号码走势</i><i style="width:187.5px">个位号码走势</i><i style="width:187.5px">组选号码分布</i></div>
</div>
<div class="c" style="width:31px">和尾</div>
<div class="c" style="width:29px">跨度</div>
<div class="blk" style="width:90px">
<div class="row"><i style="width:30px">组六</i><i style="width:29px">组三</i><i style="width:31px">豹子</i></div>
<div class="row"><i style="width:90px">形态</i></div>
</div>
<div class="c" style="width:44px">奇偶比</div>
<div class="c" style="width:44px">大小比</div>
<div class="c" style="width:50px;line-height:20px;padding-top:1px">012路<br>个数比</div>
</div>

<div class="st" style="top:716px;background:#f7f7f7"><i>出现总次数</i><i>9</i><i>11</i><i>17</i><i>3</i><i>17</i><i>15</i><i>19</i><i>7</i><i>10</i><i>12</i><i>12</i><i>19</i><i>13</i><i>9</i><i>12</i><i>12</i><i>9</i><i>10</i><i>14</i><i>10</i><i>11</i><i>11</i><i>19</i><i>11</i><i>14</i><i>8</i><i>11</i><i>14</i><i>10</i><i>11</i><i>30</i><i>34</i><i>44</i><i>21</i><i>39</i><i>33</i><i>35</i><i>28</i><i>33</i><i>31</i><i style="width:31px"></i><i style="width:29px"></i><i style="width:30px">88</i><i style="width:29px">32</i><i style="width:31px">0</i><i style="width:44px"></i><i style="width:44px"></i><i style="width:50px"></i></div>
<div class="st" style="top:740px;background:#e9f1fb"><i>平均遗漏值</i><i>11</i><i>9</i><i>6</i><i>29</i><i>6</i><i>7</i><i>5</i><i>14</i><i>10</i><i>8</i><i>8</i><i>5</i><i>8</i><i>11</i><i>8</i><i>8</i><i>11</i><i>10</i><i>7</i><i>10</i><i>9</i><i>9</i><i>5</i><i>9</i><i>7</i><i>12</i><i>9</i><i>7</i><i>10</i><i>9</i><i>3</i><i>2</i><i>2</i><i>5</i><i>2</i><i>3</i><i>2</i><i>3</i><i>3</i><i>3</i><i style="width:31px"></i><i style="width:29px"></i><i style="width:30px">0</i><i style="width:29px">3</i><i style="width:31px;color:#ccc;font-size:8px">-</i><i style="width:44px"></i><i style="width:44px"></i><i style="width:50px"></i></div>
<div class="st" style="top:764px;background:#f7f7f7"><i>最大遗漏值</i><i>30</i><i>30</i><i>27</i><i>43</i><i>32</i><i>22</i><i>25</i><i>38</i><i>46</i><i>26</i><i>36</i><i>40</i><i>21</i><i>21</i><i>26</i><i>22</i><i>29</i><i>35</i><i>20</i><i>39</i><i>42</i><i>24</i><i>25</i><i>22</i><i>27</i><i>34</i><i>20</i><i>26</i><i>46</i><i>17</i><i>10</i><i>10</i><i>10</i><i>11</i><i>13</i><i>10</i><i>8</i><i>9</i><i>18</i><i>12</i><i style="width:31px"></i><i style="width:29px"></i><i style="width:30px">4</i><i style="width:29px">13</i><i style="width:31px;color:#ccc;font-size:8px">-</i><i style="width:44px"></i><i style="width:44px"></i><i style="width:50px"></i></div>
<div class="st" style="top:788px;background:#e9f1fb"><i>最大连出数</i><i>2</i><i>2</i><i>2</i><i>0</i><i>4</i><i>2</i><i>4</i><i>0</i><i>2</i><i>0</i><i>2</i><i>2</i><i>0</i><i>0</i><i>2</i><i>2</i><i>2</i><i>0</i><i>2</i><i>2</i><i>0</i><i>2</i><i>2</i><i>0</i><i>2</i><i>0</i><i>2</i><i>3</i><i>2</i><i>2</i><i>3</i><i>2</i><i>4</i><i>2</i><i>7</i><i>5</i><i>5</i><i>5</i><i>3</i><i>4</i><i style="width:31px"></i><i style="width:29px"></i><i style="width:30px">13</i><i style="width:29px">4</i><i style="width:31px">0</i><i style="width:44px"></i><i style="width:44px"></i><i style="width:50px"></i></div>

<div class="box" style="left:19px;top:674px;width:701px;height:141px"></div>
<div class="box" style="left:724px;top:674px;width:183px;height:141px"></div>
</body></html>
